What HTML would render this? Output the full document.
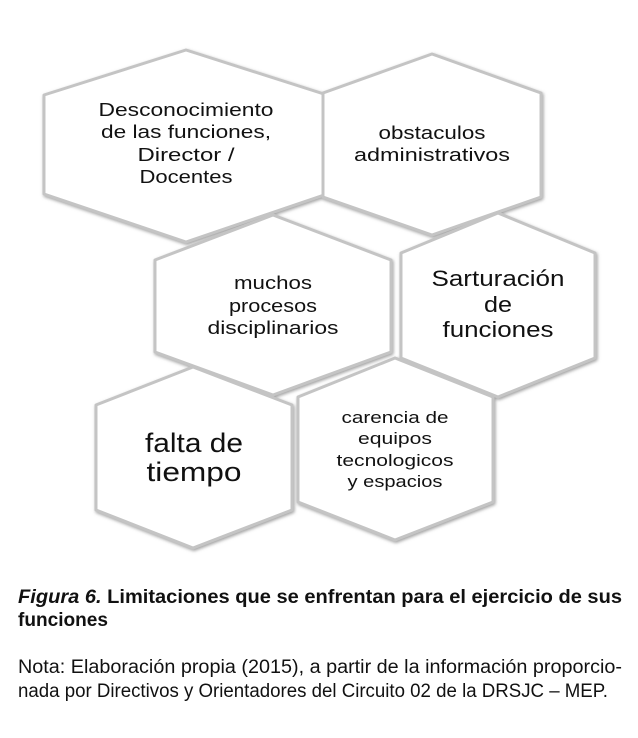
<!DOCTYPE html>
<html><head><meta charset="utf-8"><style>
html,body{margin:0;padding:0;background:#fff;}
svg{display:block;}
text{font-family:"Liberation Sans",sans-serif;fill:#111;}
</style></head><body>
<svg width="638" height="738" viewBox="0 0 638 738" xmlns="http://www.w3.org/2000/svg">
<defs>
<filter id="sh" x="-10%" y="-10%" width="120%" height="120%">
<feGaussianBlur in="SourceAlpha" stdDeviation="1.5"/>
<feOffset dx="1" dy="1.5" result="b"/>
<feFlood flood-color="#777" flood-opacity="0.7"/>
<feComposite in2="b" operator="in"/>
<feMerge><feMergeNode/><feMergeNode in="SourceGraphic"/></feMerge>
</filter>
</defs>
<g fill="#fff" stroke="#c4c4c4" stroke-width="3" filter="url(#sh)" stroke-linejoin="round">
<polygon points="186,50 327,95 327,194 186,242 44,194 44,95"/>
<polygon points="432,54 541,93 541,197 432,235 323,197 323,93"/>
<polygon points="273,215 391,260 391,352 273,395 155,352 155,260"/>
<polygon points="498,213 595,253 595,358 498,397 401,358 401,253"/>
<polygon points="193,367 292,405 292,510 193,548 96,510 96,405"/>
<polygon points="395,358 493,397 493,502 395,540 298,502 298,397"/>
</g>
<g text-anchor="middle" font-size="18" lengthAdjust="spacingAndGlyphs">
<text x="186" y="116" textLength="175" lengthAdjust="spacingAndGlyphs">Desconocimiento</text>
<text x="186" y="138" textLength="170" lengthAdjust="spacingAndGlyphs">de las funciones,</text>
<text x="186" y="161" textLength="97" lengthAdjust="spacingAndGlyphs">Director /</text>
<text x="186" y="183" textLength="93" lengthAdjust="spacingAndGlyphs">Docentes</text>
<text x="432" y="139" textLength="107" lengthAdjust="spacingAndGlyphs">obstaculos</text>
<text x="432" y="161" textLength="156" lengthAdjust="spacingAndGlyphs">administrativos</text>
<text x="273" y="289" textLength="78" lengthAdjust="spacingAndGlyphs">muchos</text>
<text x="273" y="312" textLength="88" lengthAdjust="spacingAndGlyphs">procesos</text>
<text x="273" y="334" textLength="131" lengthAdjust="spacingAndGlyphs">disciplinarios</text>
<text x="498" y="286" font-size="22" textLength="133" lengthAdjust="spacingAndGlyphs">Sarturación</text>
<text x="498" y="312" font-size="22" textLength="28" lengthAdjust="spacingAndGlyphs">de</text>
<text x="498" y="337" font-size="22" textLength="111" lengthAdjust="spacingAndGlyphs">funciones</text>
<text x="194" y="452" font-size="27" textLength="98" lengthAdjust="spacingAndGlyphs">falta de</text>
<text x="194" y="481" font-size="27" textLength="95" lengthAdjust="spacingAndGlyphs">tiempo</text>
<text x="395" y="423" font-size="17" textLength="107" lengthAdjust="spacingAndGlyphs">carencia de</text>
<text x="395" y="444" font-size="17" textLength="74" lengthAdjust="spacingAndGlyphs">equipos</text>
<text x="395" y="466" font-size="17" textLength="117" lengthAdjust="spacingAndGlyphs">tecnologicos</text>
<text x="395" y="487" font-size="17" textLength="95" lengthAdjust="spacingAndGlyphs">y espacios</text>
</g>
<g font-size="19" font-weight="bold">
<text x="18" y="603" textLength="604" lengthAdjust="spacingAndGlyphs"><tspan font-style="italic">Figura 6.</tspan> Limitaciones que se enfrentan para el ejercicio de sus</text>
<text x="18" y="626" textLength="90" lengthAdjust="spacingAndGlyphs">funciones</text>
</g>
<g font-size="19">
<text x="18" y="673" textLength="604" lengthAdjust="spacingAndGlyphs">Nota: Elaboración propia (2015), a partir de la información proporcio-</text>
<text x="18" y="697" textLength="590" lengthAdjust="spacingAndGlyphs">nada por Directivos y Orientadores del Circuito 02 de la DRSJC – MEP.</text>
</g>
</svg>
</body></html>
